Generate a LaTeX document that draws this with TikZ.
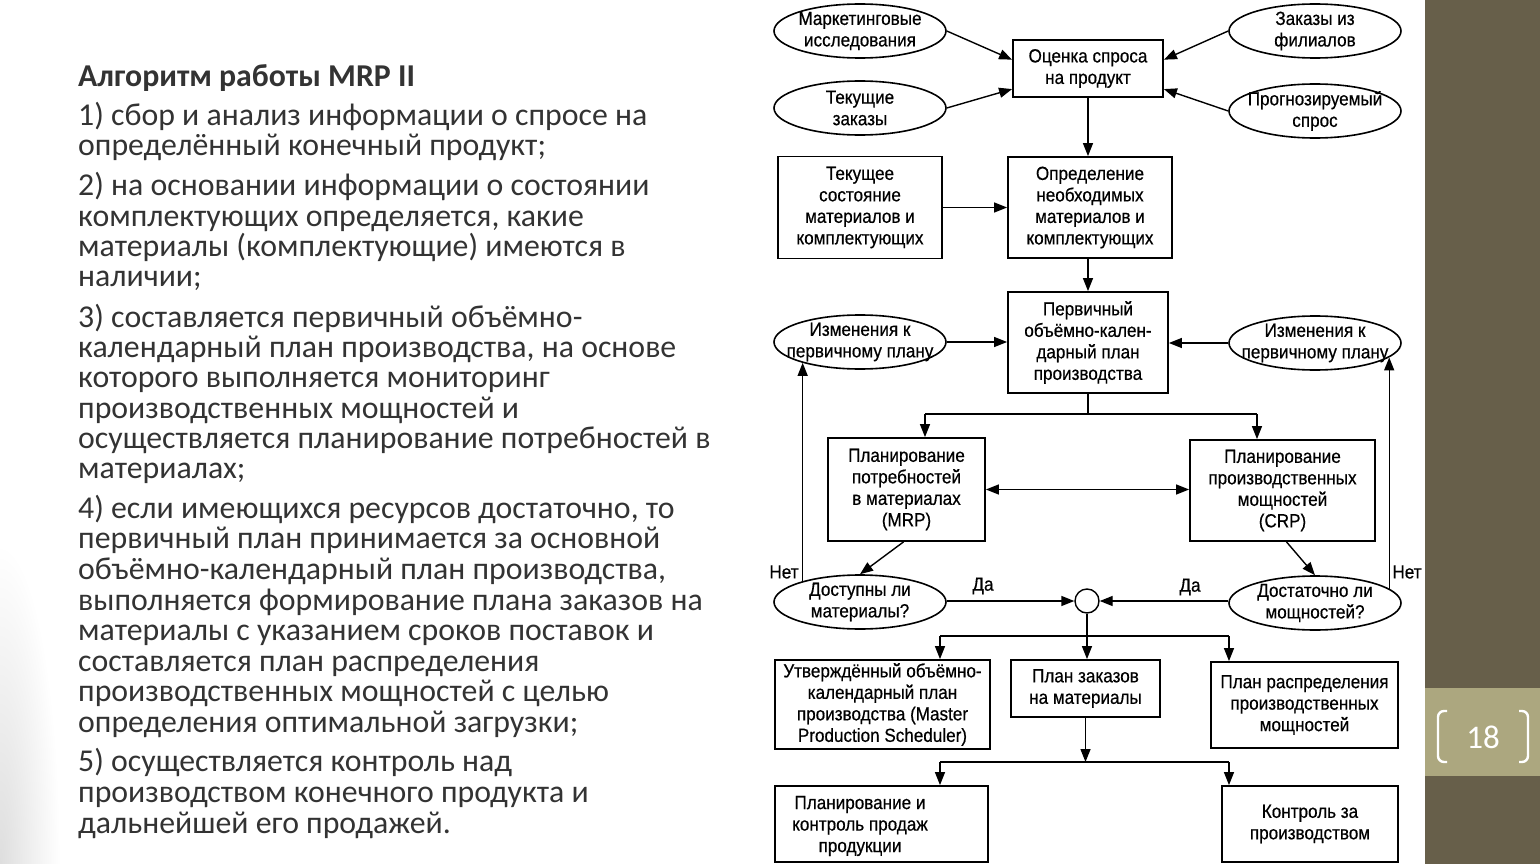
\documentclass[tikz,border=0pt]{standalone}
\usepackage{fontspec}
\setmainfont{Carlito}
\newfontfamily\diag[FakeStretch=0.9,FakeBold=0.5]{Liberation Sans}
\usetikzlibrary{arrows.meta,calc,shapes.geometric}
\definecolor{barc}{HTML}{675F4A}
\definecolor{tagc}{HTML}{ACA77F}
\definecolor{txtc}{HTML}{333333}
\begin{document}
\begin{tikzpicture}[x=1pt,y=-1pt,
  dfont/.style={font=\diag\fontsize{19}{21.5}\selectfont},
  box/.style={draw, line width=1.8pt, fill=white, inner sep=0pt, align=center, dfont},
  btext/.style={inner sep=0pt, align=center, dfont},
  ell/.style={draw, ellipse, line width=1.6pt, fill=white, minimum width=172pt, minimum height=54pt, inner sep=0pt},
  etext/.style={inner sep=0pt, align=center, dfont},
  arr/.style={-{Triangle[length=13pt,width=10pt]}, line width=1.4pt},
  darr/.style={{Triangle[length=13pt,width=10pt]}-{Triangle[length=13pt,width=10pt]}, line width=1.4pt},
  ln/.style={line width=1.4pt},
  lt/.style={anchor=base west, inner sep=0pt, text=txtc, font=\fontsize{31.8}{32}\selectfont},
  lbl/.style={inner sep=0pt, dfont}
]
\useasboundingbox (0,0) rectangle (1540,864);
\fill[white] (0,0) rectangle (1540,864);
\shade[inner color=black!13, outer color=white] (0,864) ellipse [x radius=60pt, y radius=320pt];

% ---------- left text ----------
\node[lt, font=\bfseries\fontsize{31.8}{32}\selectfont] (title) at (78,87) {Алгоритм работы MRP II};
\foreach \yy/\tt [count=\i] in {
126/{1) сбор и анализ информации о спросе на},
156/{определённый конечный продукт;},
196/{2) на основании информации о состоянии},
226/{комплектующих определяется, какие},
256/{материалы (комплектующие) имеются в},
286/{наличии;},
327/{3) составляется первичный объёмно-},
357/{календарный план производства, на основе},
387/{которого выполняется мониторинг},
418/{производственных мощностей и},
448/{осуществляется планирование потребностей в},
478/{материалах;},
518/{4) если имеющихся ресурсов достаточно, то},
548/{первичный план принимается за основной},
579/{объёмно-календарный план производства,},
610/{выполняется формирование плана заказов на},
640/{материалы с указанием сроков поставок и},
671/{составляется план распределения},
701/{производственных мощностей с целью},
732/{определения оптимальной загрузки;},
771/{5) осуществляется контроль над},
802/{производством конечного продукта и},
833/{дальнейшей его продажей.}}
  \node[lt] (line\i) at (78,\yy) {\tt};

% ---------- ellipses ----------
\node[ell, label={[etext]center:Маркетинговые\\исследования}] (e_mark) at (860,31) {};
\node[ell, label={[etext]center:Заказы из\\филиалов}] (e_zak) at (1315,31) {};
\node[ell, label={[etext]center:Текущие\\заказы}] (e_tek) at (860,108) {};
\node[ell, label={[etext]center:Прогнозируемый\\спрос}] (e_prog) at (1315,111) {};
\node[ell, label={[etext]center:Изменения к\\первичному плану}] (e_izm1) at (860,342) {};
\node[ell, label={[etext]center:Изменения к\\первичному плану}] (e_izm2) at (1315,343) {};
\node[ell, label={[etext]center:Доступны ли\\материалы?}] (e_dost) at (860,602) {};
\node[ell, label={[etext]center:Достаточно ли\\мощностей?}] (e_mosh) at (1315,603) {};

% ---------- boxes ----------
\node[box, minimum width=150pt, minimum height=57pt] (b_ocen) at (1088,68.5) {Оценка спроса\\на продукт};
\node[box, minimum width=164pt, minimum height=102pt] (b_tekst) at (860,207.5) {Текущее\\состояние\\материалов и\\комплектующих};
\node[box, minimum width=164pt, minimum height=101pt] (b_opr) at (1090,207.5) {Определение\\необходимых\\материалов и\\комплектующих};
\node[box, minimum width=160pt, minimum height=101pt] (b_perv) at (1088,342.5) {Первичный\\объёмно-кален-\\дарный план\\производства};
\node[box, minimum width=157pt, minimum height=103pt] (b_mrp) at (906.5,489.5) {Планирование\\потребностей\\в материалах\\(MRP)};
\node[box, minimum width=185pt, minimum height=101pt] (b_crp) at (1282.5,490.5) {Планирование\\производственных\\мощностей\\(CRP)};
\node[draw, circle, line width=1.4pt, minimum size=24pt, inner sep=0pt] (c_mrg) at (1087,601) {};
\node[box, minimum width=215pt, minimum height=89pt] (b_utv) at (882.5,704.5) {Утверждённый объёмно-\\календарный план\\производства (Master\\Production Scheduler)};
\node[box, minimum width=149pt, minimum height=57pt] (b_plz) at (1085.5,688.5) {План заказов\\на материалы};
\node[box, minimum width=187pt, minimum height=86pt] (b_plr) at (1304.5,705) {План распределения\\производственных\\мощностей};
\node[box, minimum width=213pt, minimum height=76pt] (b_pk) at (881.5,824) {};
\node[btext] (t_pk) at (860,826) {Планирование и\\контроль продаж\\продукции};
\node[box, minimum width=176pt, minimum height=76pt] (b_kp) at (1310,824) {Контроль за\\производством};

% ---------- connectors ----------
\draw[arr] (e_mark.east) -- ($(b_ocen.north west)!0.35!(b_ocen.south west)$);
\draw[arr] (e_tek.east) -- ($(b_ocen.north west)!0.85!(b_ocen.south west)$);
\draw[arr] (e_zak.west) -- ($(b_ocen.north east)!0.35!(b_ocen.south east)$);
\draw[arr] (e_prog.west) -- ($(b_ocen.north east)!0.85!(b_ocen.south east)$);
\draw[arr] (b_ocen.south) -- (b_ocen.south |- b_opr.north);
\draw[arr] (b_tekst.east) -- (b_opr.west);
\draw[arr] (b_opr.south -| b_perv.north) -- (b_perv.north);
\draw[arr] (e_izm1.east) -- (e_izm1.east -| b_perv.west);
\draw[arr] (e_izm2.west) -- (e_izm2.west -| b_perv.east);

\coordinate (j1) at (1088,414);
\coordinate (j1l) at (925,414);
\coordinate (j1r) at (1257,414);
\draw[ln] (b_perv.south) -- (j1);
\draw[ln] (j1l) -- (j1r);
\draw[arr] (j1l) -- (j1l |- b_mrp.north);
\draw[arr] (j1r) -- (j1r |- b_crp.north);
\draw[darr] (b_mrp.east) -- (b_mrp.east -| b_crp.west);

\draw[arr] ($(b_mrp.south)+(-3,0)$) -- (e_dost.north);
\draw[arr] ($(b_crp.south)+(4,0)$) -- (e_mosh.north);
\draw[arr] (e_dost.east |- c_mrg.west) -- (c_mrg.west);
\draw[arr] (e_mosh.west |- c_mrg.east) -- (c_mrg.east);
\node[lbl] (da1) at (983,586) {Да};
\node[lbl] (da2) at (1190,587) {Да};

\draw[arr] (e_dost.160) -- (e_izm1.200);
\draw[arr] (e_mosh.11) -- (e_izm2.349);
\node[lbl] (net1) at (784,572) {Нет};
\node[lbl] (net2) at (1407,572) {Нет};

\coordinate (j2) at (1087,636);
\coordinate (j2l) at (940,636);
\coordinate (j2r) at (1229,636);
\draw[ln] (c_mrg.south) -- (j2);
\draw[ln] (j2l) -- (j2r);
\draw[arr] (j2l) -- (j2l |- b_utv.north);
\draw[arr] (j2) -- (j2 |- b_plz.north);
\draw[arr] (j2r) -- (j2r |- b_plr.north);

\coordinate (j3) at (1085.5,762);
\coordinate (j3l) at (940,762);
\coordinate (j3r) at (1229,762);
\draw[arr] (b_plz.south) -- (j3);
\draw[ln] (j3l) -- (j3r);
\draw[arr] (j3l) -- (j3l |- b_pk.north);
\draw[arr] (j3r) -- (j3r |- b_kp.north);

% ---------- right bar ----------
\fill[barc] (1425,0) rectangle (1540,864);
\fill[tagc] (1425,688) rectangle (1540,776);
\draw[white, line width=2.4pt, rounded corners=6pt] (1447,711) -- (1438,711) -- (1438,762) -- (1447,762);
\draw[white, line width=2.4pt, rounded corners=6pt] (1519,711) -- (1528,711) -- (1528,762) -- (1519,762);
\node[inner sep=0pt, text=white, font=\fontsize{33}{33}\selectfont] (pnum) at (1483,737) {18};
\end{tikzpicture}
\end{document}
